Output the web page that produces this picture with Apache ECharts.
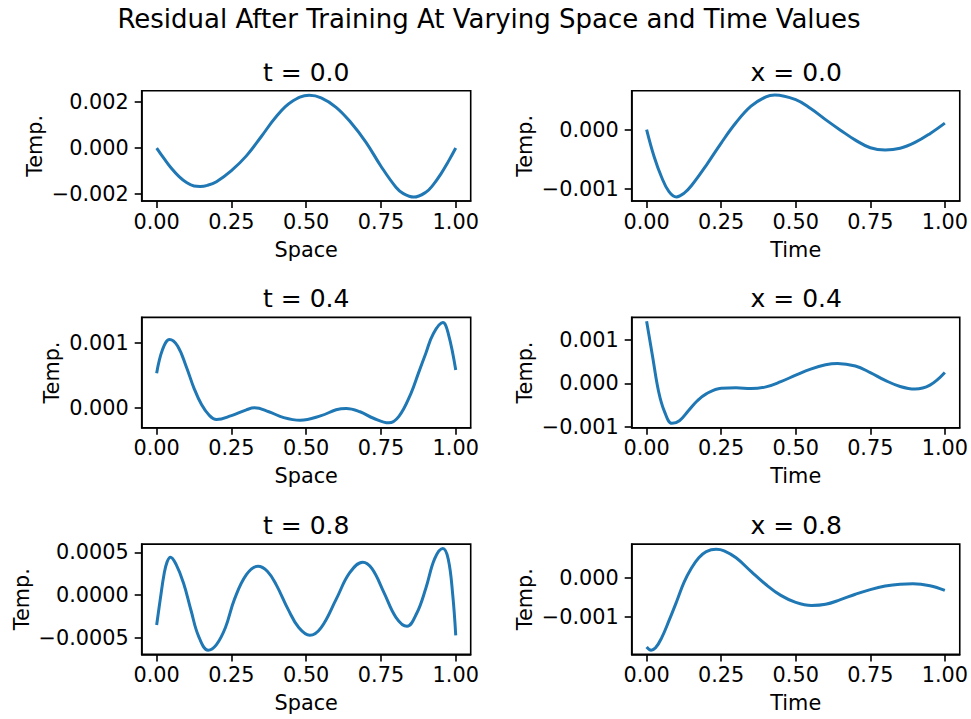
<!DOCTYPE html>
<html>
<head>
<meta charset="utf-8">
<script src="https://cdn.jsdelivr.net/npm/echarts@6/dist/echarts.min.js"></script>
<style>
html,body{margin:0;padding:0;background:#fff;}
#chart{width:971px;height:719px;}
</style>
</head>
<body>
<div id="chart"></div>
<script>
// ---------------- data ----------------
const suptitle = "Residual After Training At Varying Space and Time Values";
const panelTitles = ["t = 0.0", "x = 0.0", "t = 0.4", "x = 0.4", "t = 0.8", "x = 0.8"];
const xNames = ["Space", "Time", "Space", "Time", "Space", "Time"];
const yName = "Temp.";
const xTicks = [0, 0.25, 0.5, 0.75, 1.0];

// t = 0.0 (Space)
const t00_x = [0,0.025,0.05,0.075,0.1,0.125,0.145,0.17,0.2,0.25,0.3,0.35,0.4,0.45,0.51,0.55,0.6,0.65,0.7,0.75,0.8,0.825,0.86,0.9,0.925,0.95,0.975,1];
const t00_y = [0,-0.00046,-0.00089,-0.00124,-0.0015,-0.00165,-0.00167,-0.00162,-0.00146,-0.00098,-0.00034,0.0005,0.00137,0.002,0.00229,0.00218,0.00177,0.0011,0.00025,-0.00079,-0.0017,-0.00198,-0.00213,-0.00192,-0.00159,-0.00113,-0.00059,0];
// x = 0.0 (Time)
const x00_x = [0,0.025,0.05,0.075,0.1,0.125,0.15,0.2,0.25,0.3,0.35,0.4,0.43,0.5,0.55,0.6,0.65,0.7,0.75,0.8,0.85,0.9,0.95,1];
const x00_y = [0.00001,-0.00045,-0.0008,-0.00105,-0.00114,-0.00108,-0.00095,-0.0006,-0.00022,0.00013,0.00041,0.00057,0.0006,0.00052,0.00037,0.00018,0.0,-0.00017,-0.0003,-0.00034,-0.00031,-0.00021,-0.00006,0.00012];
// t = 0.4 (Space)
const t04_x = [0,0.02,0.043,0.07,0.1,0.125,0.15,0.175,0.2,0.25,0.3,0.327,0.375,0.425,0.48,0.55,0.6,0.634,0.68,0.725,0.776,0.81,0.85,0.875,0.9,0.925,0.957,0.975,1];
const t04_y = [0.00053,0.0009,0.00105,0.00095,0.00062,0.0003,0.00005,-0.00011,-0.00018,-0.00012,-0.00003,0,-0.00006,-0.00015,-0.00019,-0.00012,-0.00003,-0.00001,-0.00006,-0.00016,-0.00023,-0.00013,0.00022,0.00053,0.00084,0.00114,0.00131,0.00114,0.00058];
// x = 0.4 (Time)
const x04_x = [0,0.02,0.04,0.06,0.085,0.11,0.14,0.17,0.2,0.25,0.3,0.35,0.4,0.45,0.5,0.55,0.6,0.64,0.7,0.75,0.8,0.85,0.9,0.95,1];
const x04_y = [0.00143,0.00062,-0.00018,-0.00065,-0.00092,-0.00086,-0.00063,-0.0004,-0.00024,-0.00011,-0.0001,-0.00012,-0.00008,0.00004,0.00019,0.00033,0.00043,0.00046,0.0004,0.00025,0.00007,-0.00007,-0.00013,-0.00004,0.00025];
// t = 0.8 (Space)
const t08_x = [0,0.012,0.025,0.035,0.046,0.065,0.09,0.115,0.14,0.172,0.2,0.23,0.26,0.3,0.339,0.37,0.4,0.44,0.475,0.512,0.55,0.6,0.645,0.689,0.72,0.76,0.8,0.837,0.87,0.9,0.93,0.957,0.975,0.99,1];
const t08_y = [-0.00035,-0.00005,0.00025,0.00039,0.000444,0.00036,0.00014,-0.00018,-0.00048,-0.000646,-0.00058,-0.00038,-0.00005,0.00024,0.000339,0.00028,0.00012,-0.00017,-0.00038,-0.000471,-0.00038,-0.00005,0.00026,0.000386,0.00031,0.00003,-0.00026,-0.000366,-0.00021,0.00008,0.00043,0.000546,0.00042,0.00000,-0.000471];
// x = 0.8 (Time)
const x08_x = [0,0.015,0.03,0.05,0.075,0.1,0.125,0.15,0.175,0.2,0.233,0.26,0.3,0.35,0.4,0.45,0.5,0.553,0.6,0.65,0.7,0.75,0.8,0.85,0.893,0.95,1];
const x08_y = [-0.00178,-0.00186,-0.0018,-0.00155,-0.0011,-0.00062,-0.00012,0.00025,0.00052,0.00068,0.00074,0.0007,0.00052,0.00017,-0.00017,-0.00045,-0.00063,-0.00071,-0.00068,-0.00056,-0.00042,-0.0003,-0.00021,-0.00016,-0.00015,-0.0002,-0.00032];

// y-axis tick labels per panel
const yTicks1 = [-0.002, 0, 0.002];
const yTicks2 = [-0.001, 0];
const yTicks3 = [0, 0.001];
const yTicks4 = [-0.001, 0, 0.001];
const yTicks5 = [-0.0005, 0, 0.0005];
const yTicks6 = [-0.001, 0];

// ---------------- layout ----------------
const xs = [t00_x, x00_x, t04_x, x04_x, t08_x, x08_x];
const ys = [t00_y, x00_y, t04_y, x04_y, t08_y, x08_y];
const yTicks = [yTicks1, yTicks2, yTicks3, yTicks4, yTicks5, yTicks6];
const yLim = [[-0.0023,0.00249],[-0.00121,0.000674],[-0.000305,0.00139],[-0.00102,0.00152],[-0.000695,0.000598],[-0.00197,0.000872]];
const yDec = [3,3,3,3,4,3];
const yGap = [96,96,79,96,109,96];

const colLeft = [141.7, 631.7];
const rowTop = [90.7, 317.4, 544.1];
const W = 329, H = 110.3;
const FONT = "DejaVu Sans";
const FS = 20.8, TFS = 25, SFS = 26;

function fmt(v, d) {
  let s = Math.abs(v) < 1e-12 ? (0).toFixed(d) : v.toFixed(d);
  return s.replace('-', '\u2212');
}

const grids = [], xAxes = [], yAxes = [], series = [], graphics = [];
graphics.push({type:'text', x:489, y:18.5, style:{text:suptitle, font: SFS + 'px "DejaVu Sans"', fill:'#000', align:'center', verticalAlign:'middle'}});

for (let i = 0; i < 6; i++) {
  const c = i % 2, r = Math.floor(i / 2);
  grids.push({left: colLeft[c], top: rowTop[r], width: W, height: H, show: true, borderColor: '#000', borderWidth: 1.6, backgroundColor: 'transparent', containLabel: false});
  xAxes.push({
    type: 'value', gridIndex: i, min: -0.05, max: 1.05,
    name: xNames[i], nameLocation: 'middle', nameGap: 38,
    nameTextStyle: {fontFamily: FONT, fontSize: FS, color: '#000'},
    axisLine: {show: true, onZero: false, lineStyle: {color: '#000', width: 1.6}},
    axisTick: {show: true, length: 7, lineStyle: {color: '#000', width: 1.6}, customValues: xTicks},
    axisLabel: {show: true, margin: 10, fontFamily: FONT, fontSize: FS, color: '#000', customValues: xTicks, formatter: v => fmt(v, 2)},
    splitLine: {show: false}
  });
  yAxes.push({
    type: 'value', gridIndex: i, min: yLim[i][0], max: yLim[i][1],
    name: yName, nameLocation: 'middle', nameGap: yGap[i], nameRotate: 90,
    nameTextStyle: {fontFamily: FONT, fontSize: FS, color: '#000'},
    axisLine: {show: true, onZero: false, lineStyle: {color: '#000', width: 1.6}},
    axisTick: {show: true, length: 7, lineStyle: {color: '#000', width: 1.6}, customValues: yTicks[i]},
    axisLabel: {show: true, margin: 13, fontFamily: FONT, fontSize: FS, color: '#000', customValues: yTicks[i], formatter: v => fmt(v, yDec[i])},
    splitLine: {show: false}
  });
  series.push({
    type: 'line', xAxisIndex: i, yAxisIndex: i, showSymbol: false, smooth: 0.4,
    lineStyle: {color: '#1f77b4', width: 3}, itemStyle: {color: '#1f77b4'},
    data: xs[i].map((x, k) => [x, ys[i][k]]), animation: false
  });
  graphics.push({type:'text', x: colLeft[c] + W / 2, y: rowTop[r] - 18.5, style:{text: panelTitles[i], font: TFS + 'px "DejaVu Sans"', fill:'#000', align:'center', verticalAlign:'middle'}});
}

const chart = echarts.init(document.getElementById('chart'), null, {renderer: 'svg'});
chart.setOption({
  animation: false,
  backgroundColor: '#fff',
  grid: grids, xAxis: xAxes, yAxis: yAxes, series: series,
  graphic: graphics
});
</script>
</body>
</html>
